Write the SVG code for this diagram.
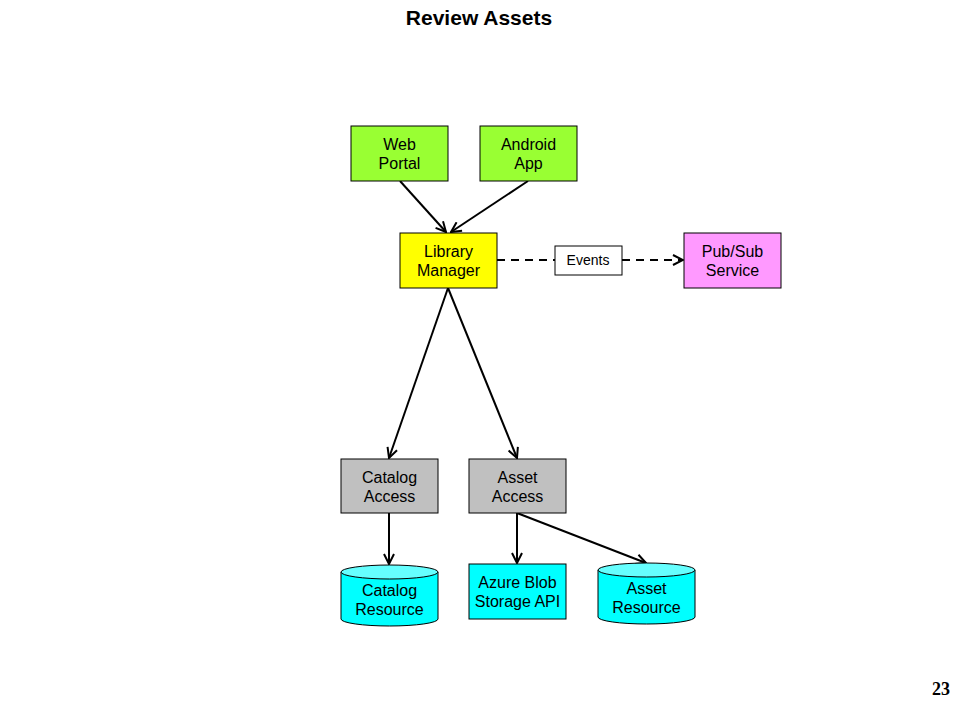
<svg xmlns="http://www.w3.org/2000/svg" width="960" height="720" viewBox="0 0 960 720">
<defs>
<style>
.box{stroke:#000;stroke-width:1}
.t{font-family:"Liberation Sans",Arial,sans-serif;font-size:16px;text-anchor:middle;fill:#000}
.e{stroke:#000;stroke-width:2;fill:none}
.d{stroke-dasharray:8,6}
</style>
<marker id="ah" viewBox="0 0 12 12" refX="11" refY="6" markerWidth="12" markerHeight="12" markerUnits="userSpaceOnUse" orient="auto">
<path d="M1,1 L11,6 L1,11" fill="none" stroke="#000" stroke-width="2"/>
</marker>
</defs>
<rect width="960" height="720" fill="#fff"/>
<text x="479" y="25" style="font-family:'Liberation Sans',Arial,sans-serif;font-size:21px;font-weight:bold;text-anchor:middle">Review Assets</text>
<text x="941" y="695" style="font-family:'Liberation Serif','Times New Roman',serif;font-size:18px;font-weight:bold;text-anchor:middle">23</text>
<g id="connectors">
<line class="e" x1="400" y1="181" x2="446" y2="232" marker-end="url(#ah)"/>
<line class="e" x1="528" y1="181" x2="451" y2="232" marker-end="url(#ah)"/>
<line class="e" x1="448" y1="288" x2="389" y2="458" marker-end="url(#ah)"/>
<line class="e" x1="448" y1="288" x2="517" y2="458" marker-end="url(#ah)"/>
<line class="e" x1="389" y1="513" x2="389" y2="564" marker-end="url(#ah)"/>
<line class="e" x1="517" y1="513" x2="517" y2="563" marker-end="url(#ah)"/>
<line class="e" x1="517" y1="513" x2="646" y2="563" marker-end="url(#ah)"/>
<line class="e d" x1="497" y1="260" x2="555" y2="260"/>
<line class="e d" x1="622" y1="260" x2="683" y2="260" marker-end="url(#ah)"/>
</g>
<g id="web-portal"><rect class="box" x="351" y="126" width="97" height="55" fill="#99FF33"/><text class="t" x="399.5" y="150">Web</text><text class="t" x="399.5" y="169">Portal</text></g>
<g id="android-app"><rect class="box" x="480" y="126" width="97" height="55" fill="#99FF33"/><text class="t" x="528.5" y="150">Android</text><text class="t" x="528.5" y="169">App</text></g>
<g id="library-manager"><rect class="box" x="400" y="233" width="97" height="55" fill="#FFFF00"/><text class="t" x="448.5" y="257">Library</text><text class="t" x="448.5" y="276">Manager</text></g>
<g id="events"><rect class="box" x="555" y="246" width="67" height="29" fill="#fff"/><text x="588" y="265" style="font-family:'Liberation Sans',Arial,sans-serif;font-size:14px;text-anchor:middle">Events</text></g>
<g id="pubsub"><rect class="box" x="684" y="233" width="97" height="55" fill="#FF99FF"/><text class="t" x="732.5" y="257">Pub/Sub</text><text class="t" x="732.5" y="276">Service</text></g>
<g id="catalog-access"><rect class="box" x="341" y="459" width="97" height="54" fill="#C0C0C0"/><text class="t" x="389.5" y="483">Catalog</text><text class="t" x="389.5" y="502">Access</text></g>
<g id="asset-access"><rect class="box" x="469" y="459" width="97" height="54" fill="#C0C0C0"/><text class="t" x="517.5" y="483">Asset</text><text class="t" x="517.5" y="502">Access</text></g>
<g id="catalog-resource">
<path class="box" d="M341,572 L341,619 A48.5,7 0 0 0 438,619 L438,572" fill="#00FFFF"/>
<ellipse class="box" cx="389.5" cy="572" rx="48.5" ry="7" fill="#66FFFF"/>
<text class="t" x="389.5" y="596">Catalog</text><text class="t" x="389.5" y="615">Resource</text></g>
<g id="azure-blob"><rect class="box" x="469" y="564" width="97" height="55" fill="#00FFFF"/><text class="t" x="517.5" y="588">Azure  Blob</text><text class="t" x="517.5" y="607">Storage API</text></g>
<g id="asset-resource">
<path class="box" d="M598,570 L598,617 A48.5,7 0 0 0 695,617 L695,570" fill="#00FFFF"/>
<ellipse class="box" cx="646.5" cy="570" rx="48.5" ry="7" fill="#66FFFF"/>
<text class="t" x="646.5" y="594">Asset</text><text class="t" x="646.5" y="613">Resource</text></g>
</svg>
